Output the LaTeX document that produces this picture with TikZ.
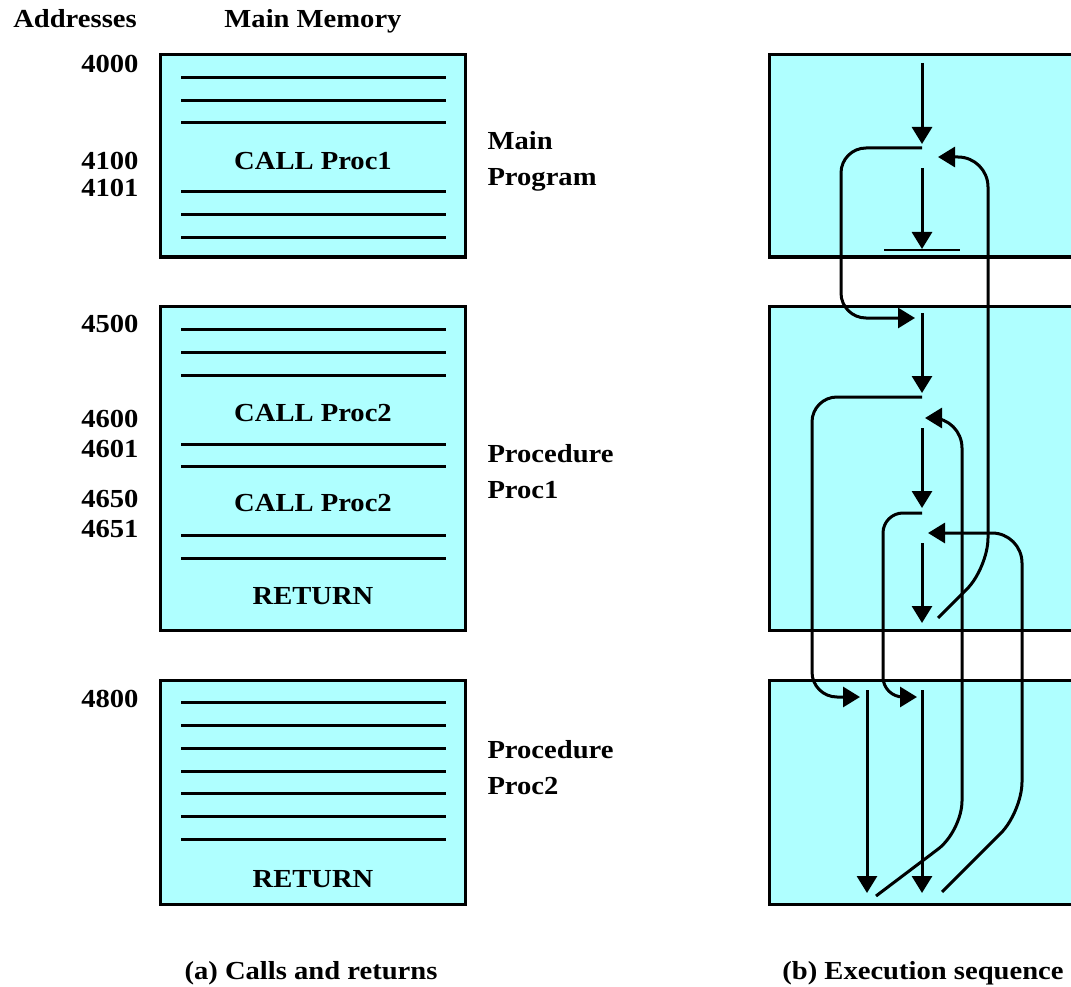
\documentclass[tikz,border=0pt]{standalone}
\usepackage{fontspec}
\setmainfont{Liberation Serif}[FakeStretch=1.1]
\usepackage{tikz}
\usetikzlibrary{arrows.meta}
\definecolor{memcyan}{RGB}{175,255,255}
\begin{document}
\begin{tikzpicture}[x=1pt,y=-1pt,line width=3pt,
 box/.style={draw,fill=memcyan,line width=3pt},
 txt/.style={font=\fontsize{26}{36}\selectfont\bfseries,inner sep=0pt},
 flow/.style={-{Triangle[length=17pt,width=20pt]},line width=3pt},
 rc/.style={rounded corners=#1pt},rc/.default=25]
\useasboundingbox (0,0) rectangle (1071,987);
%headings
\node[txt,anchor=base](addrhead)at(75,28){Addresses};
\node[txt,anchor=base](memhead)at(313,28){Main Memory};
%(a) memory blocks
\draw[box](160,55)rectangle(465,257);
\draw[box](160,306)rectangle(465,630);
\draw[box](160,680)rectangle(465,904);
\foreach \y in {78,101,123,192,215,238,329,352,375,444,466,535,558,702,725,748,771,793,816,839}
 \draw(181,\y)--(446,\y);
\node[txt,anchor=base](callone)at(313,170){CALL Proc1};
\node[txt,anchor=base](calltwoa)at(313,421){CALL Proc2};
\node[txt,anchor=base](calltwob)at(313,511){CALL Proc2};
\node[txt,anchor=base](retone)at(313,604){RETURN};
\node[txt,anchor=base](rettwo)at(313,887){RETURN};
\foreach \a/\y in {4000/73,4100/170,4101/197,4500/332,4600/427,4601/457,4650/507,4651/537,4800/707}
 \node[txt,anchor=base east](a\a)at(140,\y){\a};
\node[txt,anchor=base west](mainlbl)at(486,150){Main};
\node[txt,anchor=base west](proglbl)at(486,186){Program};
\node[txt,anchor=base west](procalbl)at(486,462){Procedure};
\node[txt,anchor=base west](procanm)at(486,498){Proc1};
\node[txt,anchor=base west](procblbl)at(486,758){Procedure};
\node[txt,anchor=base west](procbnm)at(486,794){Proc2};
%(b) execution
\draw[box](769,55)rectangle(1090,257);
\draw[box](769,306)rectangle(1090,630);
\draw[box](769,680)rectangle(1090,904);
\draw[line width=2pt](884,250)--(960,250);
\draw[flow](922,63)--(922,144);
\draw[flow,rc](922,148)--(841,148)--(841,318)--(915,318);
\draw[flow](922,168)--(922,249);
\draw[flow,rc=30](938,618)--(988,568)--(988,157)--(938,157);
%\draw[flow](922,313)--(922,393);
\draw[flow](922,313)--(922,393);
\draw[flow,rc](922,397)--(812,397)--(812,697)--(860,697);
\draw[flow,rc=30](876,896)--(962,831)--(962,418)--(925,418);
\draw[flow](922,428)--(922,508);
\draw[flow,rc=20](922,513)--(883,513)--(883,697)--(917,697);
\draw[flow,rc=30](942,892)--(1022,812)--(1022,533)--(928,533);
\draw[flow](922,543)--(922,623);
\draw[flow](867,690)--(867,893);
\draw[flow](922,690)--(922,893);
%captions
\node[txt,anchor=base](capa)at(311,979){(a) Calls and returns};
\node[txt,anchor=base](capb)at(923,979){(b) Execution sequence};
\end{tikzpicture}
\end{document}
